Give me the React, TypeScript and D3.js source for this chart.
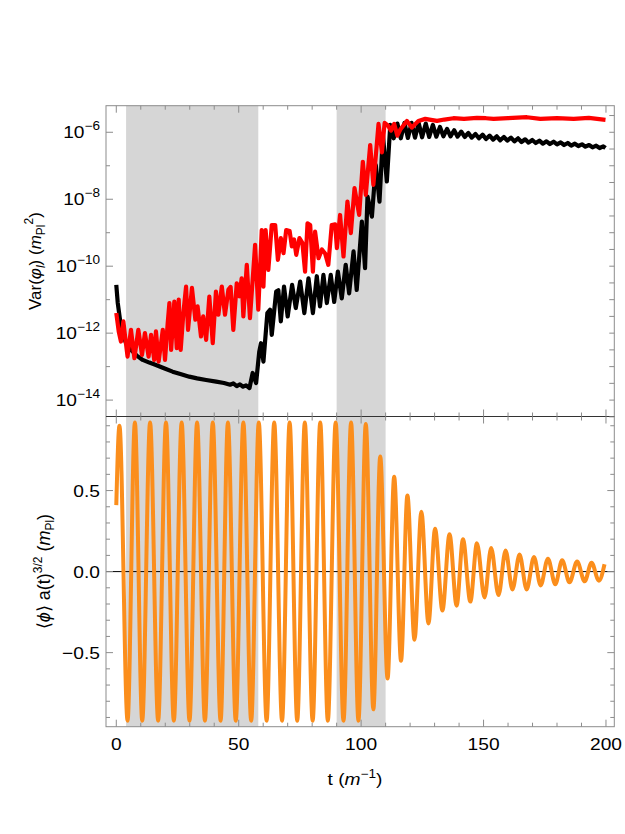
import React from 'react'
import * as d3 from 'd3'

// shaded time windows, t in units of 1/m
const bandStart = [4, 90]
const bandEnd = [58, 110]

// Var(phi_l), black curve: time and log10 of the variance
const blackT = [
  0, 0.6, 1.9, 3.0, 4.0, 5.2, 6.7, 8.5, 10.8, 13.5, 16.2, 19.5, 23.0, 26.5, 29.8, 33.0, 36.7, 40.8, 44.0,
  46.5, 47.8, 49.2, 50.5, 51.8, 53.0, 54.4, 55.7, 57.1, 58.4, 59.1, 60.1, 61.7, 62.8, 63.5, 65.3, 66.2,
  67.2, 68.5, 70.0, 71.8, 73.3, 75.1, 76.8, 78.5, 80.3, 81.9, 83.2, 84.6, 86.0, 87.6, 89.0, 90.5, 92.1,
  93.7, 95.1, 96.9, 98.2, 100.3, 101.6, 102.6, 104.4, 106.0, 107.5, 108.9, 110.5, 111.9,
  113.3, 114.8, 116.2, 117.7, 119.1, 120.6, 122.0, 123.5, 124.9, 126.4, 127.8, 129.3, 130.7, 132.2, 133.6,
  135.1, 136.5, 138.0, 139.4, 140.9, 142.3, 143.8, 145.2, 146.7, 148.1, 149.6, 151.0, 152.5, 153.9, 155.4,
  156.8, 158.3, 159.7, 161.2, 162.6, 164.1, 165.5, 167.0, 168.4, 169.9, 171.3, 172.8, 174.2, 175.7, 177.1,
  178.6, 180.0, 181.5, 182.9, 184.4, 185.8, 187.3, 188.7, 190.2, 191.6, 193.1, 194.5, 196.0, 197.4, 198.9,
  199.8,
]
const blackLog = [
  -10.56, -11.1, -11.8, -12.1, -12.3, -12.45, -12.55, -12.68, -12.8, -12.88, -12.95, -13.05, -13.15, -13.23,
  -13.3, -13.35, -13.4, -13.45, -13.49,
  -13.54, -13.5, -13.58, -13.53, -13.6, -13.56, -13.64, -13.19, -13.49, -12.55, -12.3, -12.85, -11.4, -11.3,
  -12.05, -10.76, -10.72,
  -11.65, -10.61, -11.5, -10.56, -11.25, -10.46, -11.4, -10.36, -11.4, -10.3, -11.2, -10.26, -11.1, -10.26,
  -11.07, -10.16, -10.96,
  -9.96, -10.81, -9.56, -10.71, -8.67, -10.06, -7.92, -8.52, -6.98, -8.07, -6.08, -7.47, -5.78,
  -6.18, -5.74, -6.18, -5.72, -6.17, -5.72, -6.16, -5.72, -6.15, -5.74, -6.14, -5.78, -6.13, -5.84, -6.12,
  -5.9, -6.12, -5.94, -6.13, -5.98, -6.14, -6.02, -6.16, -6.05, -6.18, -6.07, -6.2, -6.1, -6.22, -6.12,
  -6.24, -6.14, -6.25, -6.16, -6.27, -6.18, -6.29, -6.21, -6.31, -6.23, -6.32, -6.25, -6.34, -6.27, -6.35,
  -6.28, -6.36, -6.3, -6.38, -6.32, -6.4, -6.34, -6.41, -6.36, -6.43, -6.38, -6.45, -6.4, -6.47, -6.42,
  -6.47,
]

// Var(phi_l), red curve
const redT = [
  0, 1.0, 1.9, 2.9, 3.6, 4.6, 6.0, 7.4, 9.0, 10.5, 11.7, 13.2, 14.2, 15.5, 16.2, 17.3, 19.0, 19.9, 21.0,
  21.7, 22.4, 23.7, 24.7, 25.5, 26.3, 27.4, 28.5, 29.3, 30.9, 32.3, 33.2, 34.6, 35.5, 36.7, 38.0, 39.4,
  40.7, 41.7, 43.1, 44.4, 45.8, 46.7, 47.8, 49.2, 50.3, 51.2, 51.9, 53.3, 54.6, 56.7, 58.0, 59.4, 60.1,
  61.0, 62.1, 63.5, 64.9, 66.0, 67.2, 68.3, 69.4, 70.8, 71.7, 72.6, 73.5, 74.8, 76.0, 77.1, 78.1, 79.2,
  80.3, 81.2, 82.6, 84.0, 85.3, 86.6, 88.0, 89.4, 90.1, 91.4, 92.8, 94.4, 95.8, 97.3, 99.2, 100.7, 101.9,
  103.7, 105.0, 107.1, 108.5, 109.6, 111.0, 112.2, 113.5, 114.8, 116.0, 118.7, 120.7, 123.4, 126.2, 128.5,
  131.0, 134.0, 137.7, 142.0, 147.3, 151.0, 154.1, 160.0, 167.7, 173.2, 180.0, 186.8, 193.0, 199.8,
]
const redLog = [
  -11.4, -11.95, -12.25, -11.65, -12.1, -12.7, -11.9, -12.75, -11.9, -12.65, -12.0, -12.7, -12.05, -12.8,
  -11.95, -12.85, -11.9, -12.8, -11.7,
  -11.1, -12.5, -11.06, -12.45, -11.0, -12.5, -11.4, -10.61, -11.9, -10.65, -11.6, -11.2, -12.1, -11.5,
  -12.2, -10.91, -12.3,
  -10.76, -11.45, -10.61, -11.45, -10.7, -10.62, -11.9, -10.51, -10.9, -10.36, -11.5, -9.96, -11.55, -9.36,
  -11.3, -8.92, -10.61,
  -8.92, -10.11, -8.77, -8.77, -9.81, -9.16, -9.61, -8.92, -8.95, -9.41, -9.2, -9.66, -9.16, -9.3, -10.16,
  -8.72, -8.77,
  -10.16, -8.97, -9.76, -9.5, -9.62, -9.96, -8.77, -8.75, -9.46, -8.47, -9.71, -8.07, -9.01, -7.67, -8.47,
  -6.88, -7.87,
  -6.38, -7.57, -5.75, -6.6, -5.72, -5.8, -5.95, -5.75, -6.1, -5.92, -5.66, -5.86, -5.66, -5.6, -5.63,
  -5.66, -5.62, -5.58, -5.6, -5.57, -5.58, -5.6, -5.58, -5.55, -5.6, -5.58, -5.6, -5.57, -5.63,
]

// <phi> a(t)^{3/2}: turning points of the oscillation
const fieldT = [
  0, 1.3, 4.6, 7.6, 10.6, 13.8, 17.1, 20.3, 23.5, 26.7, 29.9, 33.0, 36.2, 39.4, 42.6, 45.6, 48.8, 51.9,
  55.1, 58.2, 61.4, 64.5, 67.7, 70.8, 73.9, 77.0, 80.2, 83.3, 86.4, 89.6, 92.8, 95.9, 98.9, 101.9, 105.0,
  107.8, 110.8, 113.5, 116.3, 118.9, 121.8, 124.6, 127.5, 130.2, 133.2, 136.1, 139.0, 141.6, 144.6, 147.3,
  150.4, 153.1, 156.1, 159.0, 161.8, 164.7, 167.6, 170.6, 173.3, 176.3, 179.3, 182.1, 185.1, 188.2, 191.3,
  194.1, 197.1, 199.4,
]
const fieldV = [
  0.41, 0.9, -0.92, 0.92, -0.92, 0.92, -0.92, 0.92, -0.92, 0.92, -0.92, 0.92, -0.92, 0.92, -0.92, 0.92,
  -0.92, 0.92, -0.92, 0.92, -0.92, 0.92, -0.92, 0.92, -0.92, 0.92, -0.92, 0.92, -0.92, 0.92, -0.92, 0.92,
  -0.92, 0.91, -0.85, 0.71, -0.66, 0.585, -0.55, 0.47, -0.42, 0.37, -0.32, 0.265, -0.24, 0.23, -0.21, 0.2,
  -0.185, 0.175, -0.16, 0.145, -0.145, 0.13, -0.11, 0.105, -0.11, 0.09, -0.085, 0.08, -0.078, 0.07, -0.066,
  0.062, -0.06, 0.055, -0.056, 0.045,
]

const tTicks = [0, 50, 100, 150, 200]
const varLabelExp = [-14, -12, -10, -8, -6]
const fieldLabels = [-0.5, 0, 0.5]

const W = 625
const H = 834
const L = 106
const R = 614.3
const top1 = 105.7
const mid = 416.5
const bot2 = 726.7

const FONT = '"Liberation Sans", Arial, sans-serif'
const FS = 17
const SX = 1.13 // horizontal text is drawn a little wide
const frameCol = '#8c8c8c'

export default function App() {
  const x = d3.scaleLinear().domain([-4.2, 203.4]).range([L, R])
  const yVar = d3.scaleLog().domain([Math.pow(10, -14.49), Math.pow(10, -5.206)]).range([mid, top1])
  const yField = d3.scaleLinear().domain([-0.957, 0.957]).range([bot2, mid])

  const varLine = (ts: number[], logs: number[]) =>
    d3.line<number>()
      .x((d, i) => x(ts[i]))
      .y(d => yVar(Math.pow(10, d)))(logs) || ''

  const fieldLine = d3.line<number>()
    .x((d, i) => x(fieldT[i]))
    .y(d => yField(d))
    .curve(d3.curveMonotoneX)(fieldV) || ''

  const minorT = d3.range(0, 201, 10)
  const varTicks = d3.range(-14, -5, 1)
  const varRightTicks = d3.range(-14.5, -5.2, 0.5)
  const fieldMinor = d3.range(-9, 10, 1).map(k => k / 10)

  const tick = (t: number) => (t % 50 === 0 ? 7 : 4)
  const at = (px: number, py: number) => `translate(${px},${py}) scale(${SX},1)`

  return (
    <svg width={W} height={H} style={{ position: 'absolute', left: 0, top: 0, background: '#fff' }}
      fontFamily={FONT}>
      <defs>
        <clipPath id="c1"><rect x={L} y={top1} width={R - L} height={mid - top1} /></clipPath>
        <clipPath id="c2"><rect x={L} y={mid} width={R - L} height={bot2 - mid} /></clipPath>
      </defs>

      {bandStart.map((s, i) => (
        <rect key={i} x={x(s)} y={top1} width={x(bandEnd[i]) - x(s)} height={bot2 - top1} fill="#d6d6d6" />
      ))}

      {/* top panel: variances */}
      <g clipPath="url(#c1)" fill="none" strokeLinejoin="round">
        <path d={varLine(blackT, blackLog)} stroke="#000" strokeWidth={4.2} />
        <path d={varLine(redT, redLog)} stroke="#ff0000" strokeWidth={4.2} />
      </g>

      {/* bottom panel: background field */}
      <line x1={L} x2={R} y1={yField(0)} y2={yField(0)} stroke="#000" strokeWidth={1} />
      <g clipPath="url(#c2)">
        <path d={fieldLine} fill="none" stroke="#fb8e1c" strokeWidth={4} strokeLinejoin="round" />
      </g>

      {/* frames */}
      <rect x={L} y={top1} width={R - L} height={bot2 - top1} fill="none" stroke={frameCol} strokeWidth={1} />
      <line x1={L} x2={R} y1={mid} y2={mid} stroke="#333" strokeWidth={1} />

      <g stroke={frameCol} strokeWidth={1}>
        {minorT.map(t => (
          <g key={t}>
            <line x1={x(t)} x2={x(t)} y1={top1} y2={top1 + tick(t)} />
            <line x1={x(t)} x2={x(t)} y1={mid} y2={mid - tick(t)} />
            <line x1={x(t)} x2={x(t)} y1={mid} y2={mid + tick(t)} />
            <line x1={x(t)} x2={x(t)} y1={bot2} y2={bot2 - tick(t)} />
          </g>
        ))}
        {varTicks.map(e => (
          <line key={e} x1={L} x2={L + (e % 2 === 0 ? 7 : 4)} y1={yVar(Math.pow(10, e))} y2={yVar(Math.pow(10, e))} />
        ))}
        {varRightTicks.map(e => (
          <line key={e} x1={R} x2={R - 5} y1={yVar(Math.pow(10, e))} y2={yVar(Math.pow(10, e))} />
        ))}
        {fieldMinor.map(v => {
          const len = Math.round(v * 10) % 5 === 0 ? 7 : 4
          return (
            <g key={v}>
              <line x1={L} x2={L + len} y1={yField(v)} y2={yField(v)} />
              <line x1={R} x2={R - len} y1={yField(v)} y2={yField(v)} />
            </g>
          )
        })}
      </g>

      {/* tick labels */}
      <g fontSize={FS} fill="#000">
        {tTicks.map(t => (
          <text key={t} transform={at(x(t), 750)} textAnchor="middle">{t}</text>
        ))}
        {fieldLabels.map(v => (
          <text key={v} transform={at(100, yField(v) + 6)} textAnchor="end">
            {v === 0 ? '0.0' : v < 0 ? '\u22120.5' : '0.5'}
          </text>
        ))}
        {varLabelExp.map(e => (
          <text key={e} transform={at(100, yVar(Math.pow(10, e)) + 6)} textAnchor="end">
            10<tspan fontSize={12} dy={-8}>{'\u2212' + Math.abs(e)}</tspan>
          </text>
        ))}
      </g>

      {/* axis titles */}
      <g fontSize={FS} fill="#000">
        <text transform={at(355, 785)} textAnchor="middle">
          t (<tspan fontStyle="italic">m</tspan><tspan fontSize={12} dy={-7}>{'\u22121'}</tspan><tspan dy={7}>)</tspan>
        </text>
        <text transform={`translate(41, ${(top1 + mid) / 2}) rotate(-90)`} textAnchor="middle">
          Var(<tspan fontStyle="italic">{'\u03C6'}</tspan><tspan fontSize={12} fontStyle="italic" dy={4}>l</tspan>
          <tspan dy={-4}>) (</tspan><tspan fontStyle="italic">m</tspan><tspan fontSize={12} dy={4}>Pl</tspan>
          <tspan fontSize={12} dy={-12}>2</tspan><tspan dy={8}>)</tspan>
        </text>
        <text transform={`translate(50, ${(mid + bot2) / 2}) rotate(-90)`} textAnchor="middle" fontSize={18}>
          {'\u27E8'}<tspan fontStyle="italic">{'\u03D5'}</tspan>{'\u27E9 a(t)'}
          <tspan fontSize={12} dy={-8}>3/2</tspan><tspan dy={8}> (</tspan><tspan fontStyle="italic">m</tspan>
          <tspan fontSize={12} dy={4}>Pl</tspan><tspan dy={-4}>)</tspan>
        </text>
      </g>
    </svg>
  )
}
